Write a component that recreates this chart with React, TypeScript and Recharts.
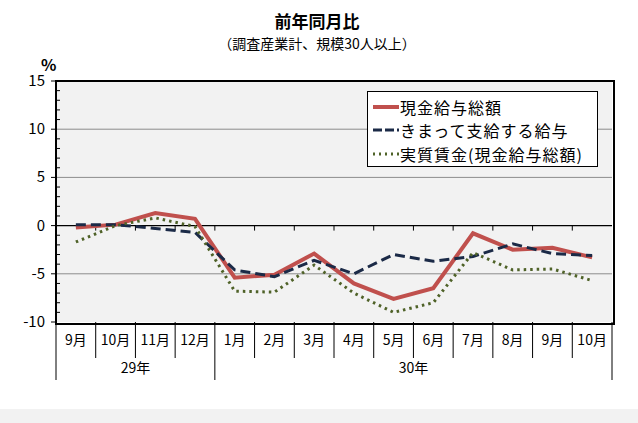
import React from "react";
import {
  LineChart,
  Line,
  XAxis,
  YAxis,
  CartesianGrid,
  ReferenceLine,
} from "recharts";

const months = ["9月", "10月", "11月", "12月", "1月", "2月", "3月", "4月", "5月", "6月", "7月", "8月", "9月", "10月"];
const years = ["29年", "30年"];
const yearSpans = [4, 10];

const wageTotal = [-0.2, 0.1, 1.3, 0.7, -5.4, -5.1, -2.9, -6.0, -7.6, -6.5, -0.8, -2.5, -2.3, -3.3];
const scheduledPay = [0.1, 0.1, -0.3, -0.7, -4.6, -5.3, -3.6, -5.0, -3.0, -3.7, -3.2, -1.9, -2.9, -3.1];
const realWage = [-1.7, 0.0, 0.8, -0.1, -6.8, -6.9, -4.1, -7.0, -9.0, -8.0, -2.8, -4.6, -4.5, -5.7];

const yLabels = [-10, -5, 0, 5, 10, 15];
// minor ticks every 1 point, labels only on yLabels
const yTicks = Array.from({ length: 26 }, (_, i) => i - 10);

const W = 638;
const H = 423;
const LEFT = 56;
const RIGHT = 26;
const TOP = 81;
const X_AXIS_H = 101;
const PLOT_W = W - LEFT - RIGHT;
const PLOT_BOTTOM = H - X_AXIS_H;
const BAND = PLOT_W / months.length;

const FONT = '"Noto Sans CJK JP", "Noto Sans", sans-serif';

const series = [
  { key: "total", name: "現金給与総額", color: "#c0504d", width: 4, dash: undefined as string | undefined, legendDash: undefined as string | undefined },
  { key: "sched", name: "きまって支給する給与", color: "#1b2a47", width: 3, dash: "10 5", legendDash: "9 3" },
  { key: "real", name: "実質賃金(現金給与総額)", color: "#4f6228", width: 3, dash: "2.5 4", legendDash: "2 4" },
];

const data = months.map((m, i) => ({
  idx: i,
  month: m,
  total: wageTotal[i],
  sched: scheduledPay[i],
  real: realWage[i],
}));

// start index of each year group
const yearStarts = yearSpans.map((_, i) => yearSpans.slice(0, i).reduce((a, b) => a + b, 0));

function MonthTick(props: any) {
  const { payload, x } = props;
  const i = Number(payload.value);
  const cx = x;
  const left = cx - BAND / 2;
  const right = cx + BAND / 2;
  const y0 = PLOT_BOTTOM;
  const isGroupStart = yearStarts.includes(i);
  const isLast = i === months.length - 1;
  const g = yearStarts.indexOf(i);
  return (
    <g>
      <line x1={left} y1={y0} x2={left} y2={isGroupStart ? y0 + 58 : y0 + 36} stroke="#000" strokeWidth={1} />
      {isLast && <line x1={right} y1={y0} x2={right} y2={y0 + 58} stroke="#000" strokeWidth={1} />}
      <text x={cx} y={y0 + 23} textAnchor="middle" fontSize={14} fontFamily={FONT} fill="#000">
        {months[i]}
      </text>
      {g >= 0 && (
        <text
          x={left + (yearSpans[g] * BAND) / 2}
          y={y0 + 51}
          textAnchor="middle"
          fontSize={14}
          fontFamily={FONT}
          fill="#000"
        >
          {years[g]}
        </text>
      )}
    </g>
  );
}

function ValueTick(props: any) {
  const { payload, y } = props;
  const v = Number(payload.value);
  const axisX = LEFT;
  if (!yLabels.includes(v)) {
    return <line x1={axisX} y1={y} x2={axisX + 4} y2={y} stroke="#000" strokeWidth={1} />;
  }
  return (
    <g>
      <line x1={axisX - 5} y1={y} x2={axisX} y2={y} stroke="#000" strokeWidth={1} />
      <text x={axisX - 11} y={y + 5} textAnchor="end" fontSize={15} fontFamily={FONT} fill="#000">
        {v}
      </text>
    </g>
  );
}

// zero line across the plot, with small ticks on the month boundaries
function ZeroLine(props: any) {
  const { y1 } = props;
  const ticks = [];
  for (let k = 1; k < months.length; k++) {
    const x = LEFT + k * BAND;
    ticks.push(<line key={k} x1={x} y1={y1} x2={x} y2={y1 + 5} stroke="#000" strokeWidth={1} />);
  }
  return (
    <g>
      <line x1={LEFT} y1={y1} x2={LEFT + PLOT_W} y2={y1} stroke="#000" strokeWidth={1.2} />
      {ticks}
    </g>
  );
}

function LegendBox() {
  return (
    <div
      style={{
        position: "absolute",
        left: 367,
        top: 91,
        width: 231,
        height: 76,
        border: "1px solid #000",
        background: "#fff",
        fontFamily: FONT,
        fontSize: 16,
        color: "#000",
        padding: "3px 0 0 5px",
        boxSizing: "border-box",
      }}
    >
      {series.map((s) => (
        <div key={s.key} style={{ display: "flex", alignItems: "center", height: 23.5 }}>
          <svg width={27} height={10}>
            <line
              x1={0}
              y1={5}
              x2={26}
              y2={5}
              stroke={s.color}
              strokeWidth={s.width}
              strokeDasharray={s.legendDash}
            />
          </svg>
          <span style={{ whiteSpace: "nowrap", letterSpacing: 1 }}>{s.name}</span>
        </div>
      ))}
    </div>
  );
}

export default function App() {
  return (
    <div
      style={{
        position: "absolute",
        left: 0,
        top: 0,
        width: W,
        height: H,
        background: "#fff",
        fontFamily: FONT,
      }}
    >
      <div style={{ position: "absolute", top: 8, width: W - 4, textAlign: "center", fontSize: 17, fontWeight: 700 }}>
        前年同月比
      </div>
      <div style={{ position: "absolute", top: 33, width: W - 4, textAlign: "center", fontSize: 14 }}>
        （調査産業計、規模30人以上）
      </div>
      <div style={{ position: "absolute", top: 52, left: 41, fontSize: 16, fontWeight: 700 }}>%</div>
      <div style={{ position: "absolute", top: 409, left: 0, width: W, height: 14, background: "#f2f2f2" }} />
      <LineChart
        width={W}
        height={H}
        data={data}
        margin={{ top: TOP, right: RIGHT, bottom: 0, left: 0 }}
        style={{ position: "absolute", left: 0, top: 0 }}
      >
        <CartesianGrid vertical={false} horizontalValues={[10, 5, -5]} fill="#f2f2f2" stroke="#8c8c8c" strokeWidth={1} />
        <XAxis
          dataKey="idx"
          type="category"
          height={X_AXIS_H}
          padding={{ left: BAND / 2, right: BAND / 2 }}
          axisLine={false}
          tickLine={false}
          tick={<MonthTick />}
          interval={0}
        />
        <YAxis
          domain={[-10, 15]}
          ticks={yTicks}
          width={LEFT}
          axisLine={false}
          tickLine={false}
          tick={<ValueTick />}
          interval={0}
        />
        <ReferenceLine y={0} shape={<ZeroLine />} />
        {series.map((s) => (
          <Line
            key={s.key}
            type="linear"
            dataKey={s.key}
            name={s.name}
            stroke={s.color}
            strokeWidth={s.width}
            strokeDasharray={s.dash}
            dot={false}
            activeDot={false}
            isAnimationActive={false}
          />
        ))}
      </LineChart>
      <div
        style={{
          position: "absolute",
          left: LEFT - 1,
          top: TOP - 1,
          width: PLOT_W,
          height: PLOT_BOTTOM - TOP,
          border: "2px solid #000",
          pointerEvents: "none",
        }}
      />
      <LegendBox />
    </div>
  );
}
